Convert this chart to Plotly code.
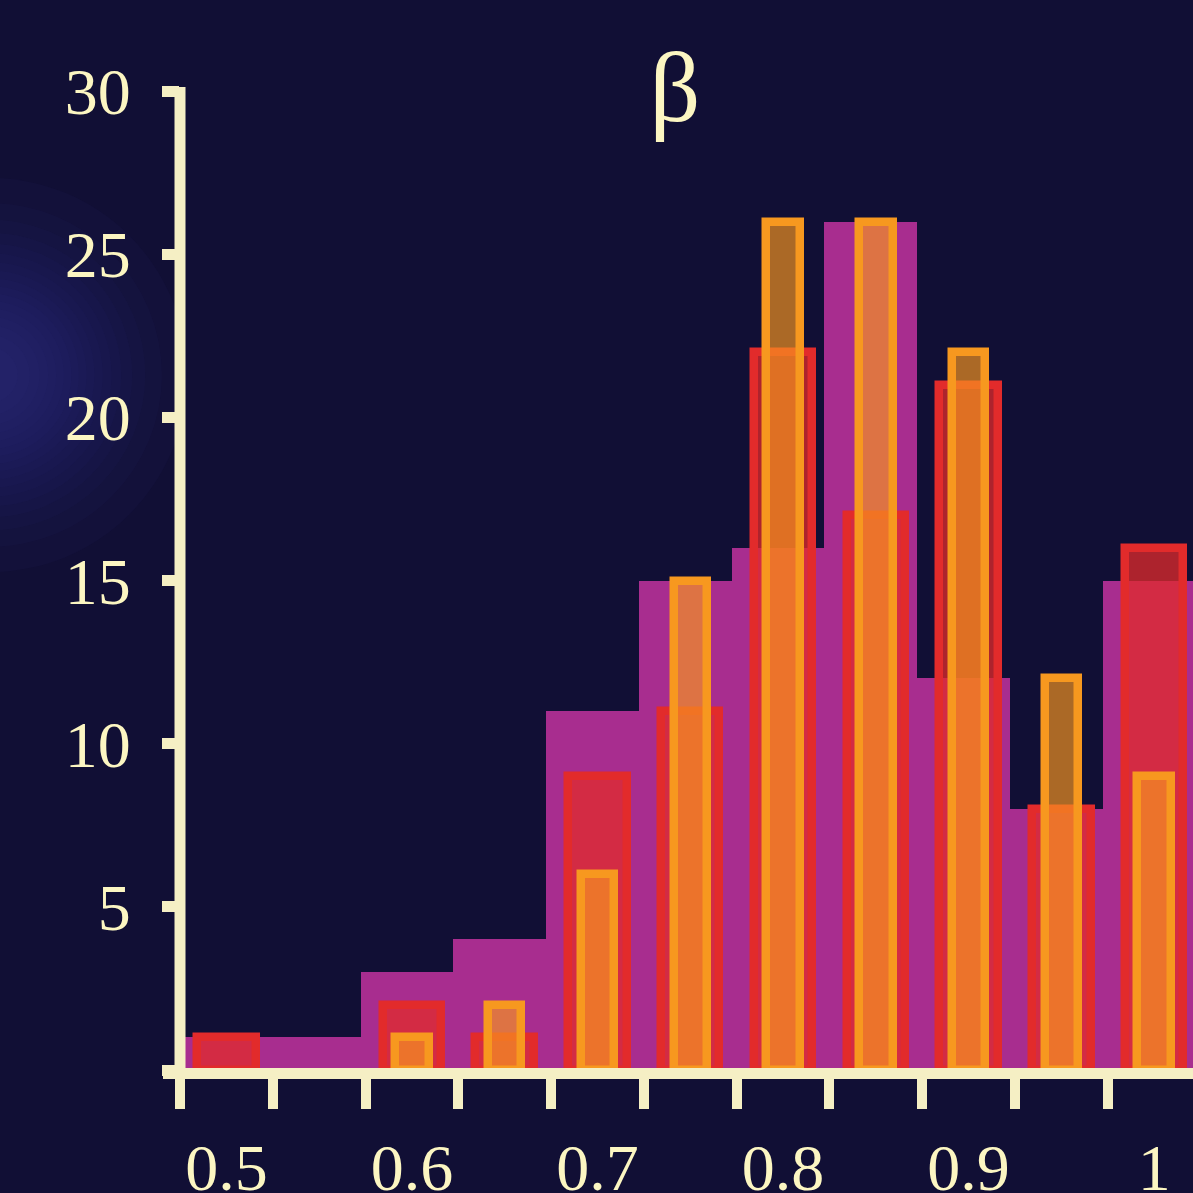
import math
import plotly.graph_objects as go

# Histogram counts per bin (bins of width 0.05, labelled by their centres)
bin_centers = [0.5, 0.55, 0.6, 0.65, 0.7, 0.75, 0.8, 0.85, 0.9, 0.95, 1.0]
purple_counts = [1, 1, 3, 4, 11, 15, 16, 26, 12, 8, 15]
red_counts = [1, None, 2, 1, 9, 11, 22, 17, 21, 8, 16]
orange_counts = [None, None, 1, 2, 6, 15, 26, 26, 22, 12, 9]

x_tick_vals = [0.5, 0.6, 0.7, 0.8, 0.9, 1.0]
x_tick_text = ["0.5", "0.6", "0.7", "0.8", "0.9", "1"]
y_tick_vals = [0, 5, 10, 15, 20, 25, 30]
y_tick_text = ["", "5", "10", "15", "20", "25", "30"]
title_text = "β"

BG = "#110f35"
CREAM = "#f5efc4"
TEXT = "#fcf6c2"
FONT = "Liberation Serif"

W, H = 1193, 1193
M_L, M_R, M_T, M_B = 180, 0, 91, 123
PX_PER_UNIT = 1855.5
x_lo = 0.475
x_hi = x_lo + (W - M_L - M_R) / PX_PER_UNIT

fig = go.Figure()

fig.add_trace(go.Bar(
    x=bin_centers, y=purple_counts,
    width=0.05, offset=-0.0277,
    marker=dict(color="#a82d8f", line=dict(width=0)),
    hoverinfo="skip",
))
fig.add_trace(go.Bar(
    x=bin_centers, y=red_counts,
    width=0.0315,
    marker=dict(color="rgba(226,43,43,0.75)",
                line=dict(color="#e22b2b", width=8.5)),
    hoverinfo="skip",
))
fig.add_trace(go.Bar(
    x=bin_centers, y=orange_counts,
    width=0.018,
    marker=dict(color="rgba(247,151,31,0.67)",
                line=dict(color="#f7981f", width=8.5)),
    hoverinfo="skip",
))

shapes = []

# soft radial glow at the left edge: stacked translucent discs
plot_w = W - M_L - M_R
plot_h = H - M_T - M_B
glow_cx = (-10 - M_L) / plot_w
glow_cy = (H - M_B - 375) / plot_h
sigma = 82.0
n_discs = 18
for k in range(1, n_discs):
    r = sigma * math.sqrt(2 * math.log(n_discs / k))
    shapes.append(dict(
        type="circle", layer="below",
        xref="paper", yref="paper",
        xsizemode="pixel", ysizemode="pixel",
        xanchor=glow_cx, yanchor=glow_cy,
        x0=-r, x1=r, y0=-r, y1=r,
        fillcolor="rgba(62,62,140,0.055)", line=dict(width=0),
    ))

# axis lines
shapes.append(dict(
    type="line", layer="above", xref="paper", yref="paper",
    x0=0, x1=0, y0=0, y1=1.004,
    line=dict(color=CREAM, width=11),
))
shapes.append(dict(
    type="rect", layer="above", xref="paper", yref="paper",
    ysizemode="pixel", yanchor=0,
    x0=-17 / plot_w, x1=1.0, y0=-9, y1=2,
    fillcolor=CREAM, line=dict(width=0),
))

fig.update_layout(
    width=W, height=H,
    margin=dict(l=M_L, r=M_R, t=M_T, b=M_B, pad=0, autoexpand=False),
    paper_bgcolor=BG, plot_bgcolor="rgba(0,0,0,0)",
    barmode="overlay", bargap=0,
    showlegend=False,
    shapes=shapes,
    font=dict(family=FONT, color=TEXT, size=66),
    title=dict(
        text=title_text, x=675 / W, xanchor="center",
        y=1 - 86 / H, yanchor="middle",
        xref="container", yref="container",
        font=dict(family=FONT, size=100, color=TEXT),
    ),
    xaxis=dict(
        range=[x_lo, x_hi], showgrid=False, zeroline=False, showline=False,
        automargin=False,
        tickmode="array", tickvals=x_tick_vals, ticktext=x_tick_text,
        ticks="outside", ticklen=38, tickwidth=10, tickcolor="rgba(0,0,0,0)",
        tickfont=dict(family=FONT, size=66, color=TEXT),
        ticklabelstandoff=2,
        minor=dict(tick0=0.475, dtick=0.05, ticks="outside", ticklen=38,
                   tickwidth=10, tickcolor=CREAM, showgrid=False),
        fixedrange=True,
    ),
    yaxis=dict(
        range=[0, 30], showgrid=False, zeroline=False, showline=False,
        automargin=False,
        tickmode="array", tickvals=y_tick_vals, ticktext=y_tick_text,
        ticks="outside", ticklen=17, tickwidth=11, tickcolor=CREAM,
        tickfont=dict(family=FONT, size=66, color=TEXT),
        ticklabelstandoff=18,
        fixedrange=True,
    ),
)

fig.write_html("out.html", config={"displayModeBar": False})
